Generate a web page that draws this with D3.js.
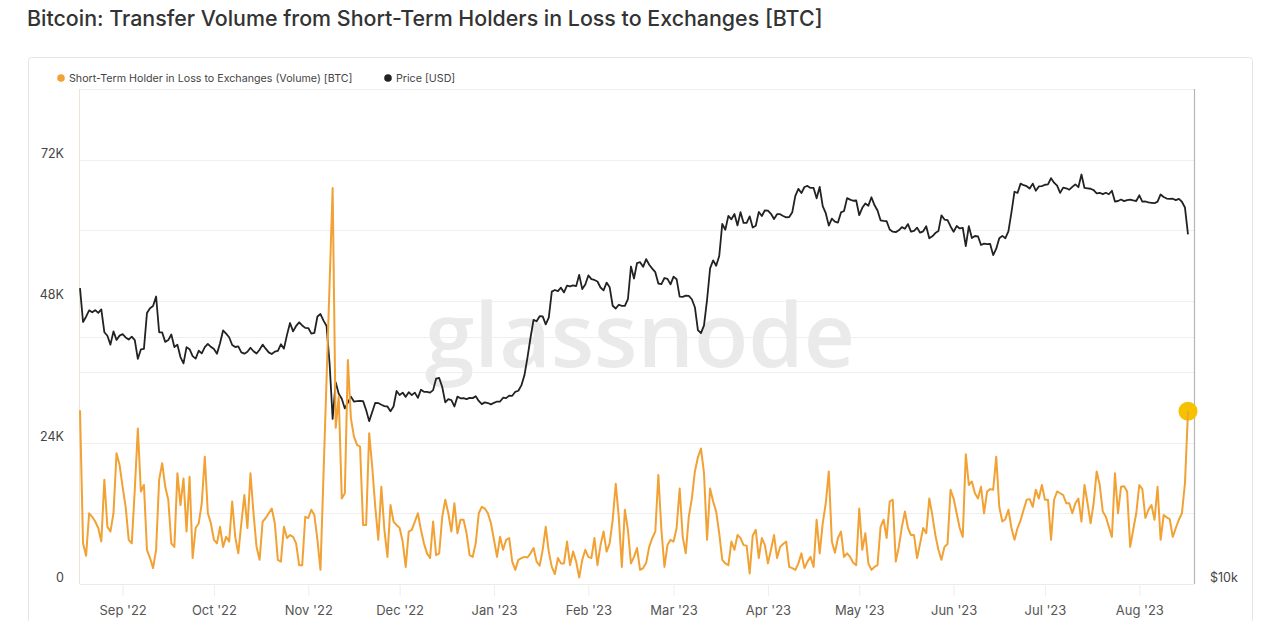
<!DOCTYPE html>
<html><head><meta charset="utf-8">
<script src="https://cdn.jsdelivr.net/npm/d3@7"></script>
<style>
body{margin:0;background:#fff;}
svg{display:block;font-family:Inter,"Noto Sans",Roboto,sans-serif;}
</style>
</head><body>
<svg id="chart" width="1280" height="621"></svg>
<script>
const titleText = "Bitcoin: Transfer Volume from Short-Term Holders in Loss to Exchanges [BTC]";
const seriesNames = ["Short-Term Holder in Loss to Exchanges (Volume) [BTC]", "Price [USD]"];
const startDate = "2022-08-18"; // first daily observation
const watermark = "glassnode";

// Daily transfer volume (BTC), Aug 18 2022 .. Aug 17 2023
const volumeBTC = [
29500,6900,4800,12000,11400,10600,9500,7200,17700,9700,
8900,12000,22200,20200,16500,13100,7500,6900,16000,26400,
15700,16800,5800,4400,2700,5800,17700,20500,16500,14300,
6900,6300,18800,13400,17900,8900,18200,4400,9500,10300,
13700,21600,12000,10300,7500,6900,9700,6300,8000,7200,
14000,8000,5200,10300,15100,9500,18800,12000,6300,4100,
10600,11200,12000,12800,10300,4100,3800,9700,7800,8300,
8000,6900,3200,3200,11400,11200,12600,11700,7500,2400,
18600,34800,51000,67200,26500,31800,14500,15400,38000,28100,
25000,23600,23300,10000,10000,25600,19900,13100,7500,16500,
9200,4600,13400,10600,10000,9500,7200,2900,8900,9200,
10600,12000,9200,6900,5200,4400,10600,4900,5200,11400,
14300,12000,8900,13700,8600,10900,10900,8600,4900,4600,
6900,12000,13100,12800,12000,10300,7500,4600,8000,5800,
7500,7800,3800,2400,4100,4400,4600,4500,5200,6100,
3800,3100,5800,9700,5500,2900,1700,4400,3500,3500,
7200,3200,5500,3800,1100,4100,5800,4600,4400,7800,
3200,6600,8900,5500,6900,10900,17000,11400,2900,12600,
9200,3500,4600,6100,2400,2700,3600,6300,7800,8900,
18500,9200,2900,6600,7500,7200,9500,16200,8000,5200,
11400,14500,19100,21500,23000,18800,7500,16200,14000,12300,
8600,4100,3500,3200,7200,5800,8300,7800,6600,6500,
1800,8200,9200,4400,7800,6600,3500,5800,8300,4400,
6300,6800,7200,2900,2700,2400,3500,5200,2700,3800,
4600,2900,10900,5200,10300,13700,19100,7200,5300,7800,
8900,4600,5200,4600,3600,3200,12800,5800,8600,3500,
2400,2900,3200,9700,10900,7800,14000,14300,3800,6300,
9700,12300,9500,8300,8300,4400,6900,9500,8600,14500,
11700,8300,5800,4100,6300,6800,16000,14500,12000,9500,
8000,22000,16800,17400,15400,14500,16500,12000,15700,16100,
16000,21600,13100,10600,11000,12600,9500,7500,9500,10800,
12600,14300,14400,13100,16000,14500,16800,14300,14300,7500,
14300,15700,15400,15100,13700,13700,12000,13700,14500,10600,
16800,13700,10300,13700,19100,16800,12300,11400,9700,8000,
18800,12000,16500,16600,15700,6300,9200,12000,16800,16100,
11200,12600,13400,10900,16500,7500,11700,11300,11000,8000,
9500,10900,12000,17100,29300
];

// Daily BTC price (USD), same days
const priceUSD = [
22900,20830,21140,21520,21400,21530,21370,21580,20240,20040,
19550,20290,19810,20050,20130,19950,19830,19990,19800,18790,
19290,19320,21360,21650,21780,22370,20240,20230,19700,19800,
20110,19420,19540,18880,18550,19410,19300,18930,18800,19220,
19080,19410,19590,19430,19310,19060,19630,20340,20160,19960,
19530,19420,19450,19130,19060,19160,19380,19190,19070,19270,
19550,19330,19130,19040,19170,19210,19570,19330,20090,20770,
20290,20600,20810,20630,20490,20480,20160,20210,21150,21300,
20910,20600,18540,15880,17590,17040,16800,16350,16620,16900,
16670,16690,16700,16690,16280,15780,16190,16610,16600,16520,
16460,16440,16220,16440,17170,16980,17090,16890,17110,16970,
17090,16840,17230,17130,17130,17090,17210,17780,17810,17360,
16630,16780,16740,16440,16900,16820,16830,16780,16840,16830,
16920,16700,16550,16630,16600,16540,16610,16670,16670,16850,
16830,16950,16940,17130,17180,17440,17940,18850,19930,20950,
20870,21170,21160,20690,21080,22680,22780,22710,22930,22630,
23060,23010,23080,23030,23770,22840,23140,23730,23490,23430,
23330,22940,22760,23260,22960,21800,21630,21860,21790,21790,
22200,24330,23530,24570,24630,24310,24840,24450,24190,23950,
23200,23160,23560,23500,23140,23650,23480,22360,22350,22430,
22410,22200,21710,20360,20190,20630,22160,24200,24750,24380,
25060,27420,26970,28040,27770,28180,27300,28330,27490,27490,
28000,27140,27270,28350,28030,28480,28450,28200,27790,28170,
28170,28030,27920,27950,28330,29650,30240,29890,30400,30490,
30320,30320,29450,30400,28820,28250,27280,27820,27590,27520,
28310,28420,29470,29340,29250,29270,28090,28680,29030,28850,
29540,28900,28460,27690,27650,27620,26990,26820,26790,26930,
27170,27040,27400,26830,26890,27130,26750,26850,27230,26330,
26480,26720,26870,28080,27750,27700,27220,26820,27250,27070,
27120,25760,27240,26350,26500,26480,25840,25940,25900,25920,
25120,25580,26330,26510,26340,26840,28310,30000,29900,30690,
30550,30470,30270,30690,30080,30450,30480,30590,30620,31160,
30770,30510,29900,30350,30290,30170,30410,30620,30390,31480,
30320,30290,30250,30140,29860,29910,29800,29910,29790,30080,
29180,29230,29350,29220,29310,29350,29280,29230,29700,29180,
29190,29110,29080,29050,29180,29770,29560,29430,29400,29420,
29300,29400,29170,28700,26620
];

const leftTickValues = [0, 24000, 48000, 72000];
const leftGridValues = [0, 12000, 24000, 36000, 48000, 60000, 72000];
const rightTickValues = [10000];
const rightGridValues = [20000];
const volumeDomain = [0, 84000];
const priceDomain = [10000, 40000];

const colors = {vol: "#f2a134", price: "#222222", dot: "#f6c200", grid: "#efefef", text: "#444"};

const svg = d3.select("#chart");
const plot = {left: 80, right: 1194, top: 89, bottom: 584, lastX: 1188};

const parse = d3.utcParse("%Y-%m-%d");
const t0 = parse(startDate);
const dates = volumeBTC.map((_, i) => d3.utcDay.offset(t0, i));

const x = d3.scaleUtc().domain([dates[0], dates[dates.length - 1]]).range([plot.left, plot.lastX]);
const yV = d3.scaleLinear().domain(volumeDomain).range([plot.bottom, plot.top]);
const yP = d3.scaleLog().domain(priceDomain).range([plot.bottom, plot.top]);

// title
svg.append("text").attr("x", 27).attr("y", 26)
  .attr("font-size", 21.4).attr("fill", "#333").attr("font-weight", 500)
  .text(titleText);

// card
svg.append("rect").attr("x", 28.5).attr("y", 57.5).attr("width", 1224).attr("height", 620)
  .attr("fill", "none").attr("stroke", "#e6e6e6").attr("rx", 3);

// legend
const legend = svg.append("g").attr("font-size", 10.7).attr("fill", "#444");
const legItems = [{name: seriesNames[0], color: colors.vol, x: 61}, {name: seriesNames[1], color: colors.price, x: 388}];
legItems.forEach(it => {
  legend.append("circle").attr("cx", it.x).attr("cy", 78).attr("r", 3.8).attr("fill", it.color);
  legend.append("text").attr("x", it.x + 8).attr("y", 82).attr("fill", "#444").text(it.name);
});

// gridlines
const grid = svg.append("g");
grid.selectAll(".gl").data(leftGridValues).join("line")
  .attr("x1", plot.left).attr("x2", plot.right)
  .attr("y1", d => Math.round(yV(d)) + 0.5).attr("y2", d => Math.round(yV(d)) + 0.5)
  .attr("stroke", colors.grid);
grid.selectAll(".gr").data(rightGridValues).join("line")
  .attr("x1", plot.left).attr("x2", plot.right)
  .attr("y1", d => Math.round(yP(d)) + 0.5).attr("y2", d => Math.round(yP(d)) + 0.5)
  .attr("stroke", colors.grid);
grid.append("line").attr("x1", plot.left).attr("x2", plot.right).attr("y1", plot.top + 0.5).attr("y2", plot.top + 0.5).attr("stroke", "#eeeeee");
grid.append("line").attr("x1", plot.left - 0.5).attr("x2", plot.left - 0.5).attr("y1", plot.top).attr("y2", plot.bottom).attr("stroke", "#ece5d2");

// watermark
svg.append("text").attr("x", 640).attr("y", 367).attr("text-anchor", "middle")
  .attr("font-size", 89).attr("font-weight", 600).attr("fill", "#eaeaea")
  .attr("font-family", "'Open Sans', sans-serif")
  .text(watermark);

// x axis
const xAxis = d3.axisBottom(x).ticks(d3.utcMonth.every(1)).tickFormat(d3.utcFormat("%b '%y")).tickSize(12).tickPadding(10);
const gx = svg.append("g").attr("transform", `translate(0,${plot.bottom})`).call(xAxis);
gx.select(".domain").attr("stroke", "#eaeaea").attr("d", `M${plot.left},0.5H${plot.right}`);
gx.selectAll(".tick line").attr("stroke", "#eeeeee");
gx.selectAll(".tick text").attr("font-size", 13).attr("fill", "#555").attr("font-family", "Inter, sans-serif");

// left axis labels
const gl = svg.append("g");
gl.selectAll("text").data(leftTickValues).join("text")
  .attr("x", 64).attr("y", d => yV(d) - 2).attr("text-anchor", "end")
  .attr("font-size", 12.5).attr("fill", colors.text)
  .text(d => d === 0 ? "0" : d3.format("d")(d / 1000) + "K");

// right axis labels
const gr = svg.append("g");
gr.selectAll("text").data(rightTickValues).join("text")
  .attr("x", 1210).attr("y", d => yP(d) - 2).attr("text-anchor", "start")
  .attr("font-size", 12.5).attr("fill", colors.text)
  .text(d => "$" + d3.format("d")(d / 1000) + "k");

// right border (hover line)
svg.append("line").attr("x1", plot.right + 0.5).attr("x2", plot.right + 0.5).attr("y1", plot.top).attr("y2", plot.bottom)
  .attr("stroke", "#b5b5b5").attr("stroke-width", 1.2);

// price line
const priceLine = d3.line().x((d, i) => x(dates[i])).y(d => yP(d));
svg.append("path").datum(priceUSD).attr("d", priceLine)
  .attr("fill", "none").attr("stroke", colors.price).attr("stroke-width", 1.8).attr("stroke-linejoin", "round");

// hover dot on last volume point
const lastI = volumeBTC.length - 1;
svg.append("circle").attr("cx", x(dates[lastI])).attr("cy", yV(volumeBTC[lastI])).attr("r", 9.5)
  .attr("fill", colors.dot);

// volume line
const volLine = d3.line().x((d, i) => x(dates[i])).y(d => yV(d));
svg.append("path").datum(volumeBTC).attr("d", volLine)
  .attr("fill", "none").attr("stroke", colors.vol).attr("stroke-width", 2).attr("stroke-linejoin", "round");
</script>
</body></html>
